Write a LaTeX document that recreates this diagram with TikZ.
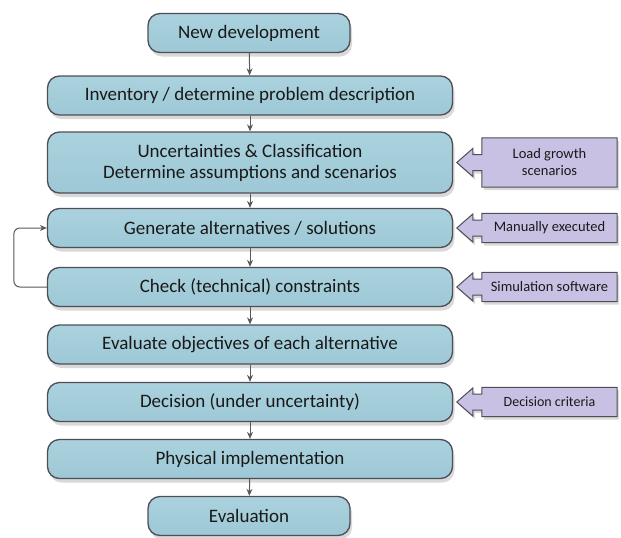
\documentclass[tikz,border=0pt]{standalone}
\usepackage{fontspec}
\setmainfont{Carlito}
\usetikzlibrary{calc,shadows,arrows.meta}
\pgfdeclarelayer{fondo}
\pgfsetlayers{fondo, main}
\definecolor{stagefill}{RGB}{158,200,214}
\definecolor{stagetop}{RGB}{170,210,222}
\definecolor{stageline}{RGB}{78,78,86}
\definecolor{notefill}{RGB}{201,193,228}
\definecolor{flowgray}{RGB}{88,88,94}
\tikzstyle{stage}=[rectangle,rounded corners=12pt,draw=stageline,line width=1.3pt,top color=stagetop,bottom color=stagefill,drop shadow={shadow xshift=2pt,shadow yshift=-4pt,opacity=0.3},minimum height=39pt,align=center,text=black!90,font=\fontsize{19}{21}\selectfont]
\tikzstyle{wide}=[stage,minimum width=405pt]
\tikzstyle{narrow}=[stage,minimum width=202pt]
\tikzstyle{note}=[rectangle,minimum width=135pt,minimum height=29pt,align=center,text=black!90,font=\fontsize{14.5}{17}\selectfont]
\tikzstyle{noteshape}=[draw=stageline,line width=1pt,fill=notefill,drop shadow={shadow xshift=2pt,shadow yshift=-3pt,opacity=0.3}]
\tikzstyle{flow}=[draw=flowgray,line width=1pt,-{Stealth[length=7pt,width=6pt]}]

\begin{document}
\begin{tikzpicture}[x=1pt,y=-1pt]
		\useasboundingbox (0,0) rectangle (621,538);
		\node [narrow] (new) at (249,33) {New development};
		\node [wide] (inv) at (250,95.5) {Inventory / determine problem description};
		\node [wide,minimum height=61pt] (unc) at (250,162.5) {Uncertainties \& Classification\\Determine assumptions and scenarios};
		\node [wide] (gen) at (250,228) {Generate alternatives / solutions};
		\node [wide] (check) at (250,287) {Check (technical) constraints};
		\node [wide] (obj) at (250,344.5) {Evaluate objectives of each alternative};
		\node [wide] (dec) at (250,402) {Decision (under uncertainty)};
		\node [wide] (impl) at (250,459) {Physical implementation};
		\node [narrow] (eval) at (249,516) {Evaluation};

		\node [note,minimum height=49pt] (load) at (549.5,162.5) {Load growth\\scenarios};
		\node [note] (manual) at (549.5,228) {Manually executed};
		\node [note] (sim) at (549.5,287) {Simulation software};
		\node [note,font=\fontsize{14}{17}\selectfont] (crit) at (549.5,402) {Decision criteria};

		\begin{pgfonlayer}{fondo}
			\foreach \n in {load,manual,sim,crit}
				\filldraw [noteshape] (\n.north west) -- (\n.north east) -- (\n.south east) -- (\n.south west)
					-- ($(\n.west)+(0,8)$) -- ($(\n.west)+(-9,8)$) -- ($(\n.west)+(-9,14)$) -- ($(\n.west)+(-25,0)$)
					-- ($(\n.west)+(-9,-14)$) -- ($(\n.west)+(-9,-8)$) -- ($(\n.west)+(0,-8)$) -- cycle;
		\end{pgfonlayer}

		\draw [flow] (new) -- (inv);
		\draw [flow] (inv) -- (unc);
		\draw [flow] (unc) -- (gen);
		\draw [flow] (gen) -- (check);
		\draw [flow] (check) -- (obj);
		\draw [flow] (obj) -- (dec);
		\draw [flow] (dec) -- (impl);
		\draw [flow] (impl) -- (eval);
		\draw [flow,rounded corners=6pt] (check.west) -- ++(-33,0) |- (gen.west);
	\end{tikzpicture}
\end{document}
